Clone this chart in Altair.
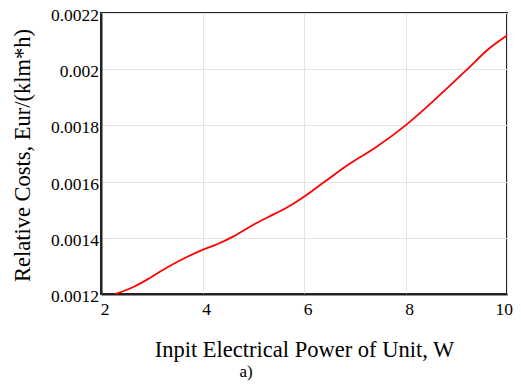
import altair as alt
import pandas as pd

power = [2.28, 2.65, 2.98, 3.31, 3.64, 4.0, 4.3, 4.62, 5.02, 5.42, 5.75, 6.0,
         6.41, 6.87, 7.41, 8.0, 8.53, 9.22, 9.63, 10.0]
cost = [0.00120, 0.001226, 0.001259, 0.001295, 0.001327, 0.001357, 0.001378,
        0.001406, 0.001448, 0.001485, 0.001517, 0.001546, 0.0016, 0.00166,
        0.001721, 0.0018, 0.001884, 0.002, 0.002071, 0.00212]
x_ticks = [2, 4, 6, 8, 10]
x_tick_labels = ["2", "4", "6", "8", "10"]
y_ticks = [0.0012, 0.0014, 0.0016, 0.0018, 0.002, 0.0022]
y_tick_labels = ["0.0012", "0.0014", "0.0016", "0.0018", "0.002", "0.0022"]

df = pd.DataFrame({"p": power, "c": cost})
xdf = pd.DataFrame({"p": x_ticks, "t": x_tick_labels})
ydf = pd.DataFrame({"c": y_ticks, "t": y_tick_labels})
FONT = "Liberation Serif"

xscale = alt.Scale(domain=[2, 10], nice=False)
yscale = alt.Scale(domain=[0.0012, 0.0022], nice=False, zero=False)
xaxis = alt.Axis(values=x_ticks, title="Inpit Electrical Power of Unit, W",
                 labels=False, titlePadding=44, titleFontSize=22.5, tickSize=0)
yaxis = alt.Axis(values=y_ticks, title="Relative Costs, Eur/(klm*h)",
                 labels=False, titleFontSize=22.5, tickSize=0,
                 titleX=-72, titleY=142, titleAngle=270,
                 titleAlign="center", titleBaseline="alphabetic")

line = alt.Chart(df).mark_line(color="#ff0000", strokeWidth=1.8, interpolate="monotone").encode(
    x=alt.X("p:Q", scale=xscale, axis=xaxis),
    y=alt.Y("c:Q", scale=yscale, axis=yaxis),
)

xlab = alt.Chart(xdf).mark_text(
    font=FONT, fontSize=17.5, color="black", baseline="middle", align="center", dx=4
).encode(x=alt.X("p:Q", scale=xscale, axis=xaxis), y=alt.value(297), text="t:N"
).transform_filter(alt.datum.p < 10)

xlab_last = alt.Chart(xdf).mark_text(
    font=FONT, fontSize=17.5, color="black", baseline="middle", align="right", dx=6
).encode(x=alt.X("p:Q", scale=xscale, axis=xaxis), y=alt.value(297), text="t:N"
).transform_filter(alt.datum.p >= 10)

ylab = alt.Chart(ydf).mark_text(
    font=FONT, fontSize=17.5, color="black", baseline="middle", align="right", dy=3
).encode(y=alt.Y("c:Q", scale=yscale, axis=yaxis), x=alt.value(-2), text="t:N")

label = alt.Chart(pd.DataFrame({"t": ["a)"]})).mark_text(
    font=FONT, fontSize=17, color="black", baseline="middle", align="center"
).encode(x=alt.value(145), y=alt.value(359), text="t:N")

chart = alt.layer(line, xlab, xlab_last, ylab, label).properties(
    width=406, height=281,
    autosize=alt.AutoSizeParams(type="none"),
    padding={"left": 93, "top": 5, "right": 6, "bottom": 90},
).configure(
    font=FONT
).configure_view(
    stroke="#222222", strokeWidth=2
).configure_axis(
    titleFont=FONT, titleColor="black", titleFontWeight="normal",
    domainColor="#222222", domainWidth=2,
    gridColor="#e4e4e4", gridWidth=1,
)

chart.save("out.html", embed_options={"renderer": "svg", "actions": False})
